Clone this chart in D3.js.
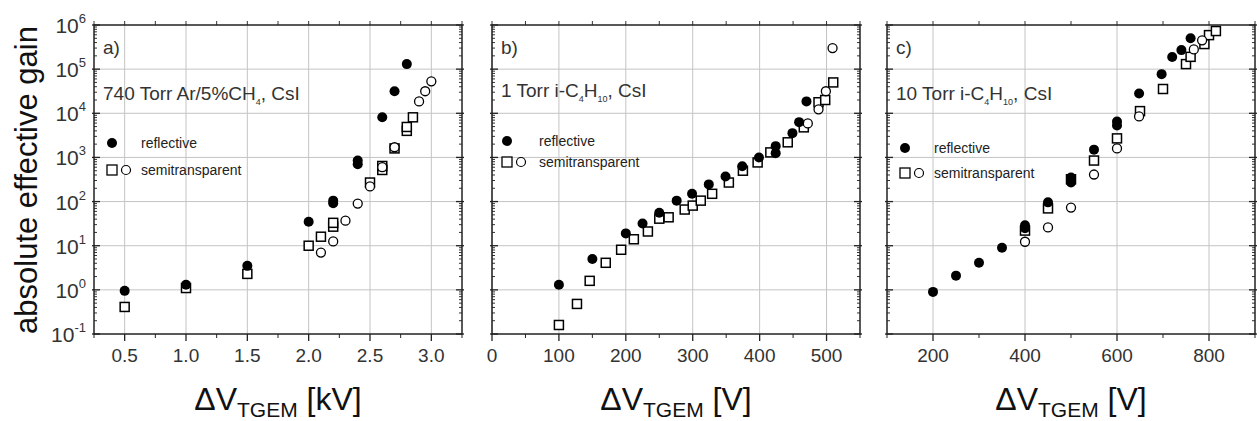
<!DOCTYPE html>
<html>
<head>
<meta charset="utf-8">
<script src="https://cdn.jsdelivr.net/npm/d3@7"></script>
<style>
  body { margin: 0; background: #fff; }
  text { font-family: "Liberation Sans", Arial, sans-serif; }
</style>
</head>
<body>
<div id="chart"></div>
<script>
// panel a) 740 Torr Ar/5%CH4
const aReflX = [0.5, 1.0, 1.5, 2.0, 2.2, 2.2, 2.4, 2.4, 2.6, 2.7, 2.8];
const aReflY = [0.95, 1.3, 3.5, 35, 92, 105, 700, 850, 8100, 31600, 130000];
const aSqX = [0.5, 1.0, 1.5, 2.0, 2.1, 2.2, 2.2, 2.5, 2.6, 2.6, 2.7, 2.8, 2.8, 2.85];
const aSqY = [0.41, 1.1, 2.3, 10, 16, 27, 33, 270, 520, 640, 1600, 4000, 4900, 8100];
const aCircX = [2.1, 2.2, 2.3, 2.4, 2.5, 2.6, 2.7, 2.9, 2.95, 3.0];
const aCircY = [7, 12.5, 37, 90, 220, 600, 1700, 18600, 31600, 53000];

// panel b) 1 Torr i-C4H10
const bReflX = [100, 150, 200, 225, 250, 276, 299, 324, 349, 374, 399, 424, 424, 449, 459, 470];
const bReflY = [1.3, 5, 19, 32, 56, 105, 150, 245, 370, 630, 1000, 1800, 1250, 3550, 6300, 18600];
const bSqX = [100, 127, 146, 170, 193, 212, 233, 250, 264, 288, 300, 312, 329, 354, 375, 397, 416, 442, 466, 488, 498, 510];
const bSqY = [0.16, 0.48, 1.6, 4.1, 8.1, 14, 21, 41, 44, 66, 81, 105, 150, 270, 500, 770, 1300, 2200, 4800, 17800, 20000, 50000];
const bCircX = [472, 488, 499, 509];
const bCircY = [5900, 12300, 31600, 300000];

// panel c) 10 Torr i-C4H10
const cReflX = [200, 250, 300, 350, 400, 400, 450, 500, 500, 550, 600, 600, 648, 697, 720, 740, 760];
const cReflY = [0.9, 2.1, 4.1, 9, 25, 29, 96, 270, 350, 1500, 5300, 6500, 28000, 77000, 188000, 270000, 500000];
const cSqX = [400, 450, 500, 550, 600, 650, 700, 750, 760, 790, 800, 815];
const cSqY = [22, 70, 320, 850, 2700, 11200, 35500, 130000, 190000, 370000, 590000, 730000];
const cCircX = [400, 450, 500, 550, 600, 648, 767, 785];
const cCircY = [12.3, 26, 73, 410, 1600, 8500, 280000, 450000];

const yTicks = [0.1, 1, 10, 100, 1000, 10000, 100000, 1000000];
const yExp = ["-1", "0", "1", "2", "3", "4", "5", "6"];

const aTicks = [0.5, 1.0, 1.5, 2.0, 2.5, 3.0];
const bTicks = [0, 100, 200, 300, 400, 500];
const cTicks = [200, 400, 600, 800];

const W = 1259, H = 421;
const yTop = 25, yBot = 334;

const svg = d3.select("#chart").append("svg").attr("width", W).attr("height", H);
svg.append("rect").attr("width", W).attr("height", H).attr("fill", "#fff");

const y = d3.scaleLog().domain([0.1, 1e6]).range([yBot, yTop]);

function zip(xs, ys) { return xs.map((v, i) => [v, ys[i]]); }

function drawPanel(p) {
    const x = d3.scaleLinear().domain(p.domain).range([p.left, p.right]);
    const g = svg.append("g");

    // grid
    g.selectAll(null).data(p.ticks).join("line")
        .attr("x1", d => x(d)).attr("x2", d => x(d)).attr("y1", yTop).attr("y2", yBot)
        .attr("stroke", "#c4c4c4").attr("stroke-width", 1);
    g.selectAll(null).data(yTicks.slice(1, -1)).join("line")
        .attr("x1", p.left).attr("x2", p.right).attr("y1", d => y(d)).attr("y2", d => y(d))
        .attr("stroke", "#c4c4c4").attr("stroke-width", 1);

    // minor log ticks
    let minor = [];
    for (let e = -1; e < 6; e++) for (let k = 2; k < 10; k++) minor.push(k * Math.pow(10, e));
    [p.left, p.right].forEach((xx, side) => {
        const dir = side == 0 ? 1 : -1;
        g.selectAll(null).data(minor).join("line")
            .attr("x1", xx).attr("x2", xx + dir * 3).attr("y1", d => y(d)).attr("y2", d => y(d))
            .attr("stroke", "#333").attr("stroke-width", 1);
        g.selectAll(null).data(yTicks).join("line")
            .attr("x1", xx - dir * 2).attr("x2", xx + dir * 6).attr("y1", d => y(d)).attr("y2", d => y(d))
            .attr("stroke", "#222").attr("stroke-width", 1.3);
    });

    // x ticks bottom and top
    g.selectAll(null).data(p.ticks).join("line")
        .attr("x1", d => x(d)).attr("x2", d => x(d)).attr("y1", yBot).attr("y2", yBot + 7)
        .attr("stroke", "#222").attr("stroke-width", 1.3);
    g.selectAll(null).data(p.minorTicks).join("line")
        .attr("x1", d => x(d)).attr("x2", d => x(d)).attr("y1", yBot).attr("y2", yBot + 4)
        .attr("stroke", "#222").attr("stroke-width", 1);
    g.selectAll(null).data(p.ticks.concat(p.minorTicks)).join("line")
        .attr("x1", d => x(d)).attr("x2", d => x(d)).attr("y1", yTop).attr("y2", yTop - 4)
        .attr("stroke", "#333").attr("stroke-width", 1);

    // frame
    g.append("rect").attr("x", p.left).attr("y", yTop).attr("width", p.right - p.left).attr("height", yBot - yTop)
        .attr("fill", "none").attr("stroke", "#222").attr("stroke-width", 1.5);

    // x tick labels
    g.selectAll(null).data(p.ticks).join("text")
        .attr("x", d => x(d)).attr("y", 362).attr("text-anchor", "middle")
        .attr("font-size", 19).attr("fill", "#333")
        .text(p.fmt);

    // x axis title
    const t = g.append("text").attr("x", (p.left + p.right) / 2).attr("y", 410)
        .attr("text-anchor", "middle").attr("font-size", 32).attr("fill", "#111");
    t.append("tspan").text("\u0394V");
    t.append("tspan").attr("font-size", 21).attr("dy", 7).text("TGEM");
    t.append("tspan").attr("dy", -7).text(" " + p.unit);

    // annotations
    const L = p.left;
    g.append("text").attr("x", L + 9).attr("y", 54).attr("font-size", 19).attr("fill", "#333").text(p.tag);
    const a = g.append("text").attr("x", L + 9).attr("y", p.annY).attr("font-size", 19).attr("fill", "#333");
    p.label.forEach(s => {
        if (s.sub) a.append("tspan").attr("font-size", 9).attr("dy", 5).text(s.t);
        else a.append("tspan").attr("dy", s.up ? -5 : 0).text(s.t);
    });

    // legend
    g.append("circle").attr("cx", L + p.lgX).attr("cy", p.lgY1).attr("r", 5).attr("fill", "#000");
    g.append("text").attr("x", L + 47).attr("y", p.lgY1 + 5).attr("font-size", 14).attr("fill", "#222").text("reflective");
    g.append("rect").attr("x", L + p.lgX - 5).attr("y", p.lgY2 - 5).attr("width", 10).attr("height", 10)
        .attr("fill", "#fff").attr("stroke", "#000").attr("stroke-width", 1.3);
    g.append("circle").attr("cx", L + p.lgX + 14).attr("cy", p.lgY2).attr("r", 4.5)
        .attr("fill", "#fff").attr("stroke", "#000").attr("stroke-width", 1.2);
    g.append("text").attr("x", L + 47).attr("y", p.lgY2 + 5).attr("font-size", 14).attr("fill", "#222").text("semitransparent");

    // data marks
    g.selectAll(null).data(zip(p.sqX, p.sqY)).join("rect")
        .attr("x", d => x(d[0]) - 4.5).attr("y", d => y(d[1]) - 4.5).attr("width", 9).attr("height", 9)
        .attr("fill", "#fff").attr("stroke", "#000").attr("stroke-width", 1.5);
    g.selectAll(null).data(zip(p.circX, p.circY)).join("circle")
        .attr("cx", d => x(d[0])).attr("cy", d => y(d[1])).attr("r", 4.5)
        .attr("fill", "#fff").attr("stroke", "#000").attr("stroke-width", 1.3);
    g.selectAll(null).data(zip(p.reflX, p.reflY)).join("circle")
        .attr("cx", d => x(d[0])).attr("cy", d => y(d[1])).attr("r", 5)
        .attr("fill", "#000");
}

drawPanel({
    left: 94, right: 462, domain: [0.25, 3.25],
    ticks: aTicks, minorTicks: [0.25, 0.75, 1.25, 1.75, 2.25, 2.75, 3.25],
    fmt: d3.format(".1f"), unit: "[kV]", tag: "a)", annY: 100,
    label: [{ t: "740 Torr Ar/5%CH" }, { t: "4", sub: true }, { t: ", CsI", up: true }],
    lgX: 18, lgY1: 143, lgY2: 170,
    reflX: aReflX, reflY: aReflY, sqX: aSqX, sqY: aSqY, circX: aCircX, circY: aCircY
});

drawPanel({
    left: 492, right: 860, domain: [0, 550],
    ticks: bTicks, minorTicks: [50, 150, 250, 350, 450, 550],
    fmt: d3.format("d"), unit: "[V]", tag: "b)", annY: 97,
    label: [{ t: "1 Torr i-C" }, { t: "4", sub: true }, { t: "H", up: true }, { t: "10", sub: true }, { t: ", CsI", up: true }],
    lgX: 15, lgY1: 141, lgY2: 162,
    reflX: bReflX, reflY: bReflY, sqX: bSqX, sqY: bSqY, circX: bCircX, circY: bCircY
});

drawPanel({
    left: 887, right: 1255, domain: [100, 900],
    ticks: cTicks, minorTicks: [100, 300, 500, 700, 900],
    fmt: d3.format("d"), unit: "[V]", tag: "c)", annY: 100,
    label: [{ t: "10 Torr i-C" }, { t: "4", sub: true }, { t: "H", up: true }, { t: "10", sub: true }, { t: ", CsI", up: true }],
    lgX: 18, lgY1: 148, lgY2: 173,
    reflX: cReflX, reflY: cReflY, sqX: cSqX, sqY: cSqY, circX: cCircX, circY: cCircY
});

// y tick labels (panel a only)
const yl = svg.append("g").selectAll("text").data(yTicks).join("text")
    .attr("x", 86).attr("y", d => y(d) + 8).attr("text-anchor", "end")
    .attr("font-size", 21).attr("fill", "#333");
yl.append("tspan").text("10");
yl.append("tspan").attr("font-size", 13).attr("dy", -10).text((d, i) => yExp[i]);

// y axis title
svg.append("text").attr("transform", "translate(37,180) rotate(-90)")
    .attr("text-anchor", "middle").attr("font-size", 31).attr("fill", "#111")
    .text("absolute effective gain");
</script>
</body>
</html>
